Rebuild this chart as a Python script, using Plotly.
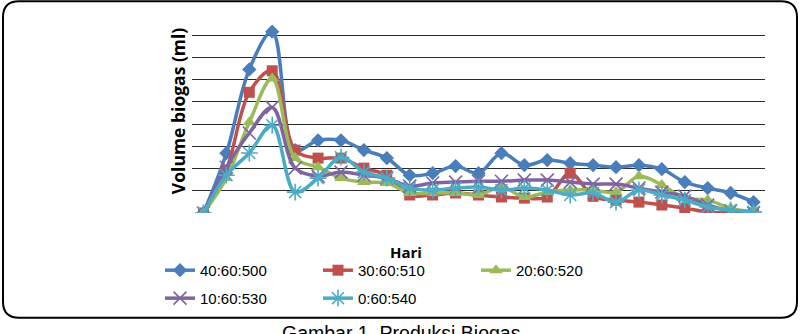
import plotly.graph_objects as go

# Day index (Hari)
days = list(range(1, 26))

# Biogas volume (grid units, axis has no tick labels)
s_40_60_500 = [0, 2.69, 6.46, 8.16, 2.83, 3.27, 3.27, 2.83, 2.47, 1.70, 1.79, 2.11, 1.79,
               2.69, 2.15, 2.38, 2.24, 2.15, 2.06, 2.15, 1.97, 1.39, 1.12, 0.90, 0.49]
s_30_60_510 = [0, 1.93, 5.43, 6.40, 2.83, 2.47, 2.47, 2.02, 1.70, 0.81, 0.81, 0.90, 0.81,
               0.72, 0.67, 0.72, 1.79, 0.75, 0.58, 0.49, 0.36, 0.22, 0.05, 0.0, 0.0]
s_20_60_520 = [0, 1.57, 4.08, 6.05, 2.47, 2.06, 1.57, 1.39, 1.35, 0.90, 0.90, 0.90, 0.81,
               1.17, 0.72, 0.94, 1.03, 1.03, 0.94, 1.65, 1.26, 0.67, 0.58, 0.22, 0.05]
s_10_60_530 = [0, 2.06, 3.60, 4.75, 2.02, 1.66, 1.84, 1.70, 1.57, 1.21, 1.35, 1.39, 1.43,
               1.43, 1.48, 1.48, 1.39, 1.30, 1.30, 1.12, 0.94, 0.76, 0.36, 0.09, 0.0]
s_0_60_540 = [0, 1.70, 2.70, 3.95, 0.94, 1.57, 2.51, 1.84, 1.57, 1.12, 1.03, 1.12, 1.17,
              1.03, 1.12, 1.03, 0.81, 0.90, 0.49, 1.03, 0.81, 0.58, 0.27, 0.13, 0.05]

series_names = ["40:60:500", "30:60:510", "20:60:520", "10:60:530", "0:60:540"]
series_values = [s_40_60_500, s_30_60_510, s_20_60_520, s_10_60_530, s_0_60_540]
colors = ["#4A7EBB", "#C0504D", "#9BBB59", "#8064A2", "#4BACC6"]
symbols = ["diamond", "square", "triangle-up", "x-thin-open", "asterisk-open"]
sizes = [11, 11, 12, 13, 14]
legends = ["legend", "legend", "legend", "legend2", "legend2"]

# plot area in pixels
L, R, T, B = 192, 765, 12.7, 213
W_PX, H_PX = 805, 334

fig = go.Figure()
for name, vals, c, sym, sz, lg in zip(series_names, series_values, colors, symbols, sizes, legends):
    mk = dict(symbol=sym, size=sz, color=c)
    if "open" in sym:
        mk["line"] = dict(color=c, width=1.6)
    fig.add_trace(go.Scatter(
        x=days, y=vals, name=name, mode="lines+markers",
        line=dict(color=c, width=3.5, shape="spline", smoothing=1.0),
        marker=mk, legend=lg,
    ))

def px_x(p):
    return (p - L) / (R - L)

def px_y(p):
    return (B - p) / (B - T)

# rounded border
x0, x1, y0, y1, r = 3, 797, 1, 318, 16
path = (f"M {px_x(x0 + r)} {px_y(y0)} L {px_x(x1 - r)} {px_y(y0)} "
        f"Q {px_x(x1)} {px_y(y0)} {px_x(x1)} {px_y(y0 + r)} "
        f"L {px_x(x1)} {px_y(y1 - r)} Q {px_x(x1)} {px_y(y1)} {px_x(x1 - r)} {px_y(y1)} "
        f"L {px_x(x0 + r)} {px_y(y1)} Q {px_x(x0)} {px_y(y1)} {px_x(x0)} {px_y(y1 - r)} "
        f"L {px_x(x0)} {px_y(y0 + r)} Q {px_x(x0)} {px_y(y0)} {px_x(x0 + r)} {px_y(y0)} Z")
fig.add_shape(type="path", path=path, xref="paper", yref="paper",
              line=dict(color="black", width=2), layer="above")

font_main = "Liberation Sans, Arial, sans-serif"
fig.update_layout(
    width=W_PX, height=H_PX,
    margin=dict(l=L, r=W_PX - R, t=T, b=H_PX - B, pad=0),
    plot_bgcolor="white", paper_bgcolor="white",
    font=dict(family=font_main, size=15, color="black"),
    xaxis=dict(range=[0.5, 25.5], showgrid=False, zeroline=False, showticklabels=False,
               showline=False, ticks=""),
    yaxis=dict(range=[0, 9], dtick=1, showgrid=True, gridcolor="#2a2a2a", gridwidth=1.3,
               zeroline=False, showticklabels=False, showline=False, ticks=""),
    showlegend=True,
    legend=dict(orientation="h", x=px_x(160), xanchor="left", y=px_y(254), yanchor="top",
                entrywidth=113, entrywidthmode="pixels", font=dict(size=15),
                bgcolor="rgba(0,0,0,0)", itemclick=False),
    legend2=dict(orientation="h", x=px_x(160), xanchor="left", y=px_y(282), yanchor="top",
                 entrywidth=113, entrywidthmode="pixels", font=dict(size=15),
                 bgcolor="rgba(0,0,0,0)", itemclick=False),
    annotations=[
        dict(text="<b>Volume biogas (ml)</b>", textangle=-90, xref="paper", yref="paper",
             x=px_x(178), y=px_y(111), showarrow=False, font=dict(size=17.5, family="Open Sans, sans-serif"),
             xanchor="center", yanchor="middle"),
        dict(text="<b>Hari</b>", xref="paper", yref="paper", x=px_x(406), y=px_y(252),
             showarrow=False, font=dict(size=15, family="Open Sans, sans-serif"),
             xanchor="center", yanchor="middle"),
        dict(text="Gambar 1. Produksi Biogas", xref="paper", yref="paper", x=px_x(401), y=px_y(320),
             showarrow=False, font=dict(size=19.5, family=font_main), xanchor="center", yanchor="top"),
    ],
)

fig.write_html("out.html")
